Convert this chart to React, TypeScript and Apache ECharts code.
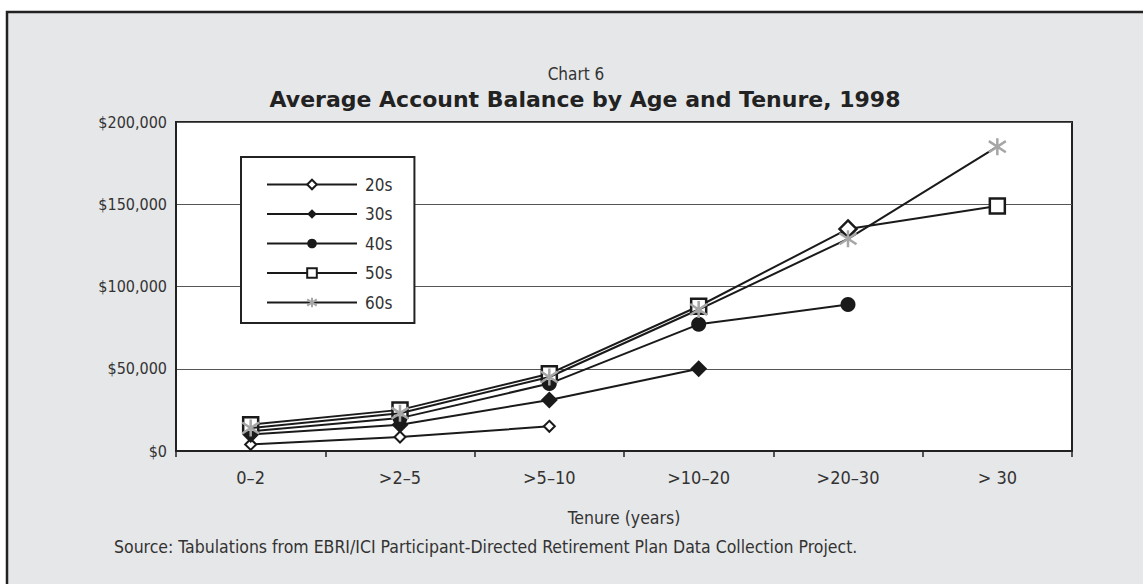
import React, { useEffect, useRef } from "react";
import * as echarts from "echarts";

const categories = ["0–2", ">2–5", ">5–10", ">10–20", ">20–30", "> 30"];
const seriesNames = ["20s", "30s", "40s", "50s", "60s"];
const values20s = [4000, 8500, 15000, null, null, null];
const values30s = [10000, 16000, 31000, 50000, null, null];
const values40s = [12000, 20000, 41000, 77000, 89000, null];
const values50s = [16000, 25000, 47000, 88000, 135000, 149000];
const values60s = [14000, 23000, 45000, 86000, 129000, 185000];
const yTicks = [0, 50000, 100000, 150000, 200000];

const FONT = "'Liberation Sans Narrow', 'DejaVu Sans Condensed', 'Liberation Sans', sans-serif";
const TXT = "#333";
const ASTERISK = "path://M10,0L10,20M1.5,3.5L18.5,16.5M1.5,16.5L18.5,3.5";

export default function App() {
  const ref = useRef<HTMLDivElement>(null);
  useEffect(() => {
    if (!ref.current) return;
    const chart = echarts.init(ref.current, null, { renderer: "svg" });
    const lineStyle = { color: "#1a1a1a", width: 2 };
    const option: any = {
      animation: false,
      backgroundColor: "#fff",
      graphic: [
        {
          type: "rect",
          z: -10,
          silent: true,
          shape: { x: 7, y: 12, width: 1160, height: 600 },
          style: { fill: "#e6e7e8", stroke: "#222", lineWidth: 2.5 },
        },
        {
          type: "text",
          x: 576,
          y: 65,
          style: { text: "Chart 6", fill: TXT, font: `17px ${FONT}`, align: "center" },
        },
        {
          type: "text",
          x: 585,
          y: 88,
          style: {
            text: "Average Account Balance by Age and Tenure, 1998",
            fill: "#222",
            font: `bold 22px 'DejaVu Sans', sans-serif`,
            align: "center",
          },
        },
        {
          type: "text",
          x: 114,
          y: 538,
          style: {
            text: "Source: Tabulations from EBRI/ICI Participant-Directed Retirement Plan Data Collection Project.",
            fill: TXT,
            font: `17.5px ${FONT}`,
          },
        },
      ],
      grid: {
        left: 176,
        top: 122,
        right: 71,
        bottom: 133,
        show: true,
        backgroundColor: "#fff",
        borderColor: "#222",
        borderWidth: 2,
      },
      legend: {
        orient: "vertical",
        left: 241,
        top: 157,
        padding: [19, 22, 12, 25],
        backgroundColor: "#fff",
        borderColor: "#222",
        borderWidth: 2,
        borderRadius: 0,
        itemWidth: 90,
        itemHeight: 12,
        itemGap: 12.5,
        textStyle: { fontFamily: FONT, fontSize: 17, color: TXT, padding: [0, 0, 0, 3] },
        data: seriesNames,
      },
      xAxis: {
        type: "category",
        data: categories,
        boundaryGap: true,
        axisLine: { lineStyle: { color: "#222", width: 2 } },
        axisTick: { show: true, length: 6, lineStyle: { color: "#222", width: 1.5 } },
        axisLabel: { fontFamily: FONT, fontSize: 18, color: TXT, margin: 17 },
        name: "Tenure (years)",
        nameLocation: "middle",
        nameGap: 58,
        nameTextStyle: { fontFamily: FONT, fontSize: 17.5, color: TXT },
      },
      yAxis: {
        type: "value",
        min: yTicks[0],
        max: yTicks[yTicks.length - 1],
        interval: yTicks[1] - yTicks[0],
        axisLine: { show: true, lineStyle: { color: "#222", width: 2 } },
        axisTick: { show: false },
        axisLabel: {
          fontFamily: FONT,
          fontSize: 16,
          color: TXT,
          margin: 9,
          formatter: (v: number) => "$" + v.toLocaleString("en-US"),
        },
        splitLine: { lineStyle: { color: "#555", width: 1.2 } },
      },
      series: [
        {
          name: "20s",
          type: "line",
          data: values20s,
          symbol: "diamond",
          symbolSize: 11,
          lineStyle,
          itemStyle: { color: "#fff", borderColor: "#1a1a1a", borderWidth: 2 },
          z: 3,
        },
        {
          name: "30s",
          type: "line",
          data: values30s,
          symbol: "diamond",
          symbolSize: 17,
          lineStyle,
          itemStyle: { color: "#1a1a1a", borderColor: "#1a1a1a", borderWidth: 0 },
          z: 3,
        },
        {
          name: "40s",
          type: "line",
          data: values40s,
          symbol: "circle",
          symbolSize: 15,
          lineStyle,
          itemStyle: { color: "#1a1a1a", borderColor: "#1a1a1a", borderWidth: 0 },
          z: 3,
        },
        {
          name: "50s",
          type: "line",
          data: values50s.map((v, i) =>
            i === 4 ? { value: v, symbol: "diamond", symbolSize: 17 } : v
          ),
          symbol: "rect",
          symbolSize: 15,
          lineStyle,
          itemStyle: { color: "#fff", borderColor: "#1a1a1a", borderWidth: 2.5 },
          z: 4,
        },
        {
          name: "60s",
          type: "line",
          data: values60s,
          symbol: ASTERISK,
          symbolSize: 17,
          lineStyle,
          itemStyle: { color: "#a6a6a6", borderColor: "#a6a6a6", borderWidth: 2.5 },
          z: 5,
        },
      ],
    };
    chart.setOption(option);
    return () => chart.dispose();
  }, []);
  return (
    <div
      ref={ref}
      style={{ position: "fixed", left: 0, top: 0, width: 1143, height: 584 }}
    />
  );
}
